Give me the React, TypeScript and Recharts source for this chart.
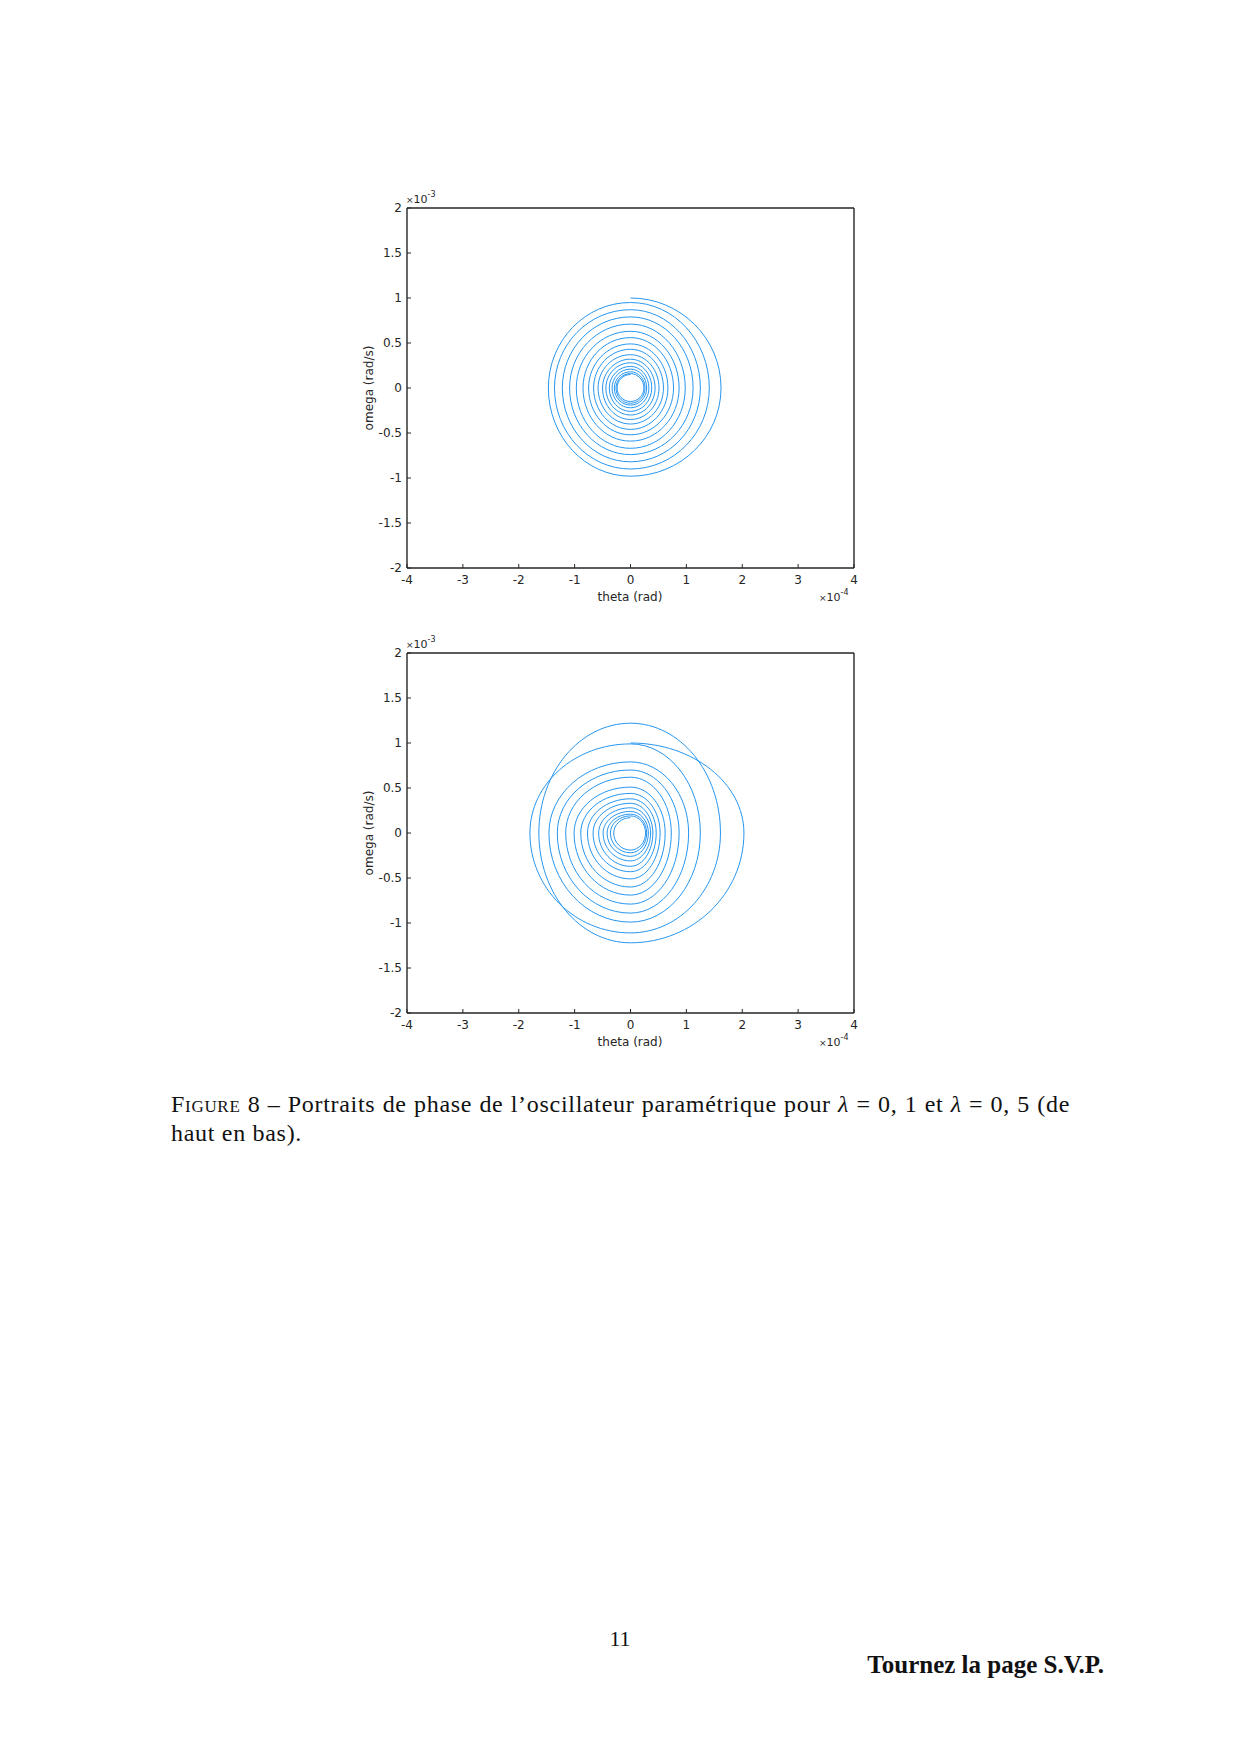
import { ScatterChart, Scatter, XAxis, YAxis } from "recharts";

// theta in units of 1e-4 rad, omega in units of 1e-3 rad/s
// each turn: theta max (right), omega min (bottom), theta min (left), omega max (top)
const lam01Start = 1.0;
const lam01Right = [1.62, 1.41, 1.25, 1.12, 0.98, 0.87, 0.77, 0.67, 0.59, 0.51, 0.44, 0.38, 0.33, 0.29, 0.26, 0.24];
const lam01Bottom = [-0.98, -0.9, -0.82, -0.74, -0.67, -0.59, -0.52, -0.46, -0.4, -0.35, -0.3, -0.26, -0.22, -0.19, -0.17, -0.15];
const lam01Left = [-1.47, -1.36, -1.22, -1.09, -0.97, -0.85, -0.75, -0.66, -0.58, -0.5, -0.44, -0.38, -0.33, -0.29, -0.26, -0.24];
const lam01Top = [0.95, 0.87, 0.79, 0.71, 0.63, 0.56, 0.49, 0.43, 0.37, 0.32, 0.28, 0.24, 0.21, 0.18, 0.16, 0.15];

const lam05Start = 1.0;
const lam05Right = [2.03, 1.61, 1.25, 1.04, 0.87, 0.73, 0.62, 0.53, 0.46, 0.4, 0.36, 0.32, 0.29, 0.27];
const lam05Bottom = [-1.22, -1.11, -0.99, -0.89, -0.79, -0.69, -0.6, -0.51, -0.43, -0.37, -0.31, -0.26, -0.22, -0.19];
const lam05Left = [-1.64, -1.8, -1.46, -1.31, -1.16, -1.01, -0.89, -0.77, -0.67, -0.57, -0.49, -0.42, -0.36, -0.3];
const lam05Top = [1.22, 0.99, 0.79, 0.7, 0.62, 0.51, 0.44, 0.38, 0.33, 0.28, 0.24, 0.21, 0.19, 0.17];

const xTicks = [-4, -3, -2, -1, 0, 1, 2, 3, 4];
const yTicks = [-2, -1.5, -1, -0.5, 0, 0.5, 1, 1.5, 2];

const BLUE = "#2796ef";
const AXIS = "#262626";
const TEXT = "#262626";
const SANS = "'DejaVu Sans', sans-serif";
const SERIF = "'Liberation Serif', serif";

type Pt = { x: number; y: number };

function buildPath(start: number, right: number[], bottom: number[], left: number[], top: number[]) {
  const pts: Pt[] = [{ x: 0, y: start }];
  right.forEach((r, i) => {
    pts.push({ x: r, y: 0 }, { x: 0, y: bottom[i] }, { x: left[i], y: 0 }, { x: 0, y: top[i] });
  });
  return pts;
}

// curve joining the turning points with quarter ellipses:
// even points are omega extremes (horizontal tangent), odd points theta extremes (vertical tangent)
const K = 0.5523;
const quarterArcs = (context: any) => {
  let n = 0;
  let px = 0;
  let py = 0;
  return {
    areaStart() {},
    areaEnd() {},
    lineStart() {
      n = 0;
    },
    lineEnd() {},
    point(x: number, y: number) {
      x = +x;
      y = +y;
      if (n === 0) {
        context.moveTo(x, y);
      } else if (n % 2 === 1) {
        context.bezierCurveTo(px + K * (x - px), py, x, y + K * (py - y), x, y);
      } else {
        context.bezierCurveTo(px, py + K * (y - py), x + K * (px - x), y, x, y);
      }
      px = x;
      py = y;
      n++;
    },
  };
};

const noDot = () => <g />;

const tickStyle = { fontSize: 12, fill: TEXT, fontFamily: SANS };

function PhasePlot({ data, top }: { data: Pt[]; top: number }) {
  return (
    <>
      <div style={{ position: "absolute", left: 320, top }}>
        <ScatterChart width={560} height={450} margin={{ top: 37, right: 25, bottom: 12, left: 47 }}>
          <XAxis
            xAxisId="b"
            type="number"
            dataKey="x"
            domain={[-4, 4]}
            ticks={xTicks}
            interval={0}
            allowDataOverflow
            orientation="bottom"
            height={40}
            tickSize={-4}
            tickMargin={11}
            stroke={AXIS}
            axisLine={{ stroke: AXIS, strokeWidth: 1.4 }}
            tick={tickStyle}
          />
          <XAxis
            xAxisId="t"
            type="number"
            dataKey="x"
            domain={[-4, 4]}
            ticks={xTicks}
            interval={0}
            allowDataOverflow
            orientation="top"
            height={1}
            tickSize={-4}
            stroke={AXIS}
            axisLine={{ stroke: AXIS, strokeWidth: 1.4 }}
            tick={false}
          />
          <YAxis
            yAxisId="l"
            type="number"
            dataKey="y"
            domain={[-2, 2]}
            ticks={yTicks}
            interval={0}
            allowDataOverflow
            orientation="left"
            width={40}
            tickSize={-4}
            tickMargin={9}
            stroke={AXIS}
            axisLine={{ stroke: AXIS, strokeWidth: 1.4 }}
            tick={tickStyle}
          />
          <YAxis
            yAxisId="r"
            type="number"
            dataKey="y"
            domain={[-2, 2]}
            ticks={yTicks}
            interval={0}
            allowDataOverflow
            orientation="right"
            width={1}
            tickSize={-4}
            stroke={AXIS}
            axisLine={{ stroke: AXIS, strokeWidth: 1.4 }}
            tick={false}
          />
          <Scatter
            xAxisId="b"
            yAxisId="l"
            data={data}
            fill={BLUE}
            line={{ stroke: BLUE, strokeWidth: 1 }}
            lineJointType={quarterArcs as any}
            shape={noDot}
            isAnimationActive={false}
          />
        </ScatterChart>
      </div>
      {/* exponent labels and axis titles */}
      <div style={{ position: "absolute", left: 406, top: top + 23, fontFamily: SANS, fontSize: 11, lineHeight: "14px", color: TEXT }}>
        <span style={{ fontSize: 9 }}>×</span>10
        <span style={{ fontSize: 8, position: "relative", top: -6 }}>-3</span>
      </div>
      <div style={{ position: "absolute", left: 819, top: top + 421, fontFamily: SANS, fontSize: 11, lineHeight: "14px", color: TEXT }}>
        <span style={{ fontSize: 9 }}>×</span>10
        <span style={{ fontSize: 8, position: "relative", top: -6 }}>-4</span>
      </div>
      <div style={{ position: "absolute", left: 570, width: 120, textAlign: "center", top: top + 419, fontFamily: SANS, fontSize: 12, lineHeight: "16px", color: TEXT }}>
        theta (rad)
      </div>
      <div
        style={{
          position: "absolute",
          left: 309,
          top: top + 210,
          width: 120,
          height: 16,
          textAlign: "center",
          transform: "rotate(-90deg)",
          fontFamily: SANS,
          fontSize: 12,
          lineHeight: "16px",
          color: TEXT,
        }}
      >
        omega (rad/s)
      </div>
    </>
  );
}

export default function App() {
  const data01 = buildPath(lam01Start, lam01Right, lam01Bottom, lam01Left, lam01Top);
  const data05 = buildPath(lam05Start, lam05Right, lam05Bottom, lam05Left, lam05Top);
  return (
    <div style={{ position: "relative", width: 1240, height: 1754, background: "#fff" }}>
      <style>{`body{margin:0}`}</style>
      <PhasePlot data={data01} top={170} />
      <PhasePlot data={data05} top={615} />
      <div
        style={{
          position: "absolute",
          left: 171,
          top: 1090,
          width: 899,
          fontFamily: SERIF,
          fontSize: 24,
          letterSpacing: 0.7,
          lineHeight: "29px",
          color: "#111",
        }}
      >
        <div style={{ textAlign: "justify", textAlignLast: "justify" }}>
          <span style={{ fontVariant: "small-caps" }}>Figure</span> 8 – Portraits de phase de l’oscillateur paramétrique pour{" "}
          <i>λ</i> = 0, 1 et <i>λ</i> = 0, 5 (de
        </div>
        <div>haut en bas).</div>
      </div>
      <div style={{ position: "absolute", left: 570, width: 100, textAlign: "center", top: 1625, fontFamily: SERIF, fontSize: 22, lineHeight: "28px", color: "#111" }}>
        11
      </div>
      <div style={{ position: "absolute", right: 136, top: 1650, fontFamily: SERIF, fontWeight: "bold", fontSize: 25, lineHeight: "30px", color: "#111" }}>
        Tournez la page S.V.P.
      </div>
    </div>
  );
}
